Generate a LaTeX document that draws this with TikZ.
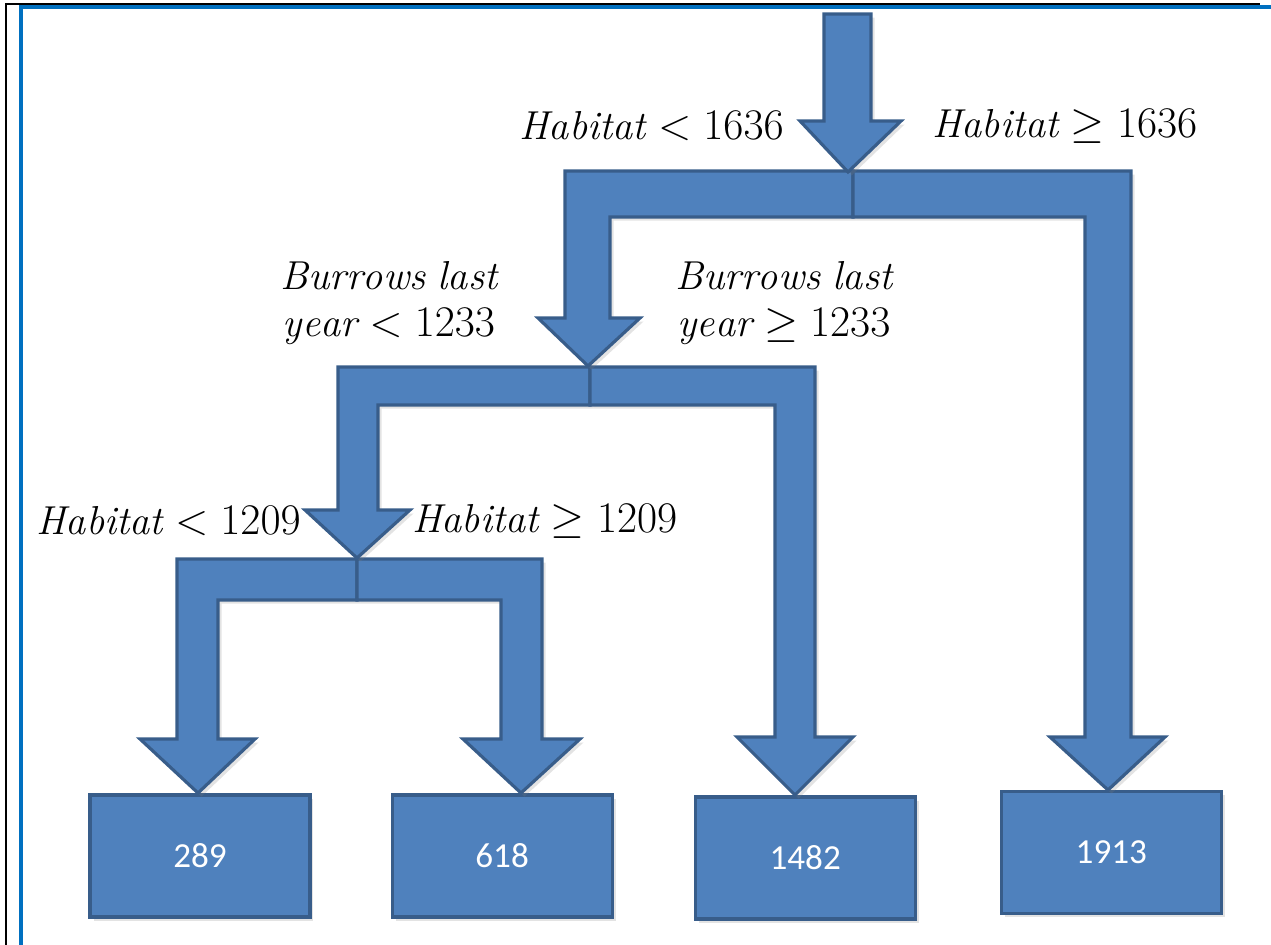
\documentclass[tikz,border=0pt]{standalone}
\usepackage{fontspec}
\newfontfamily\leaffont{Carlito}
\usepackage{xcolor}
\usetikzlibrary{positioning}
\usetikzlibrary{shadows}

\definecolor{flowblue}{HTML}{4F81BD}
\definecolor{flowedge}{HTML}{385D8A}
\definecolor{frameblue}{HTML}{0070C0}

\tikzset{
  flow/.style={fill=flowblue, draw=flowedge, line width=1.8pt, line join=miter,
    drop shadow={opacity=0.22, shadow xshift=2pt, shadow yshift=-2pt}},
  leaf/.style={flow, minimum width=4.4cm, minimum height=2.44cm, text=white,
    font=\leaffont\fontsize{20}{24}\selectfont},
  cond/.style={font=\fontsize{23}{27}\selectfont, align=center, inner sep=0pt},
}

\begin{document}
\begin{tikzpicture}[x=0.02cm, y=-0.02cm]
        \useasboundingbox (0,0) rectangle (1271,945);
        % page frame
        \draw[black, line width=1.2pt] (6,945) -- (6,4) -- (1260,4);
        \draw[frameblue, line width=2.6pt] (21,945) -- (21,7) -- (1271,7);

        % leaves
        \node[leaf] (leaf_289) at (200,856) {289};
        \node[leaf, right=1.58cm of leaf_289] (leaf_618) {618};
        \node[leaf, right=1.6cm of leaf_618, yshift=-0.04cm] (leaf_1482) {1482};
        \node[leaf, right=1.66cm of leaf_1482, yshift=0.11cm] (leaf_1913) {1913};

        % third split
        \draw[flow] (357,559) -- (177,559) -- (177,739) -- (140,739) -- (198,793) -- (255,739) -- (218,739) -- (218,600) -- (357,600) -- cycle;
        \draw[flow] (357,559) -- (542,559) -- (542,739) -- (580,739) -- (521,793) -- (463,739) -- (501,739) -- (501,600) -- (357,600) -- cycle;

        % second split
        \draw[flow] (590,367) -- (338,367) -- (338,510) -- (305,510) -- (357,558) -- (410,510) -- (378,510) -- (378,405) -- (590,405) -- cycle;
        \draw[flow] (590,367) -- (815,367) -- (815,737) -- (853,737) -- (795,795) -- (737,737) -- (775,737) -- (775,405) -- (590,405) -- cycle;

        % first split
        \draw[flow] (853,171) -- (565,171) -- (565,318) -- (538,318) -- (588,366) -- (640,318) -- (610,318) -- (610,217) -- (853,217) -- cycle;
        \draw[flow] (853,171) -- (1131,171) -- (1131,737) -- (1165,737) -- (1108,790) -- (1050,737) -- (1085,737) -- (1085,217) -- (853,217) -- cycle;
        \draw[flow] (824,14) -- (871,14) -- (871,121) -- (901,121) -- (848,172) -- (800,121) -- (824,121) -- cycle;

        % split conditions
        \node[cond, anchor=east] (hab_lt_1636) at (784,126) {$\mathit{Habitat} < 1636$};
        \node[cond, anchor=west] (hab_ge_1636) at (932,126) {$\mathit{Habitat} \geq 1636$};
        \node[cond] (burrows_lt) at (389,303) {$\mathit{Burrows\ last}$\\$\mathit{year} < 1233$};
        \node[cond] (burrows_ge) at (784,303) {$\mathit{Burrows\ last}$\\$\mathit{year} \geq 1233$};
        \node[cond, anchor=east] (hab_lt_1209) at (301,521) {$\mathit{Habitat} < 1209$};
        \node[cond, anchor=west] (hab_ge_1209) at (412,521) {$\mathit{Habitat} \geq 1209$};
    \end{tikzpicture}
\end{document}
